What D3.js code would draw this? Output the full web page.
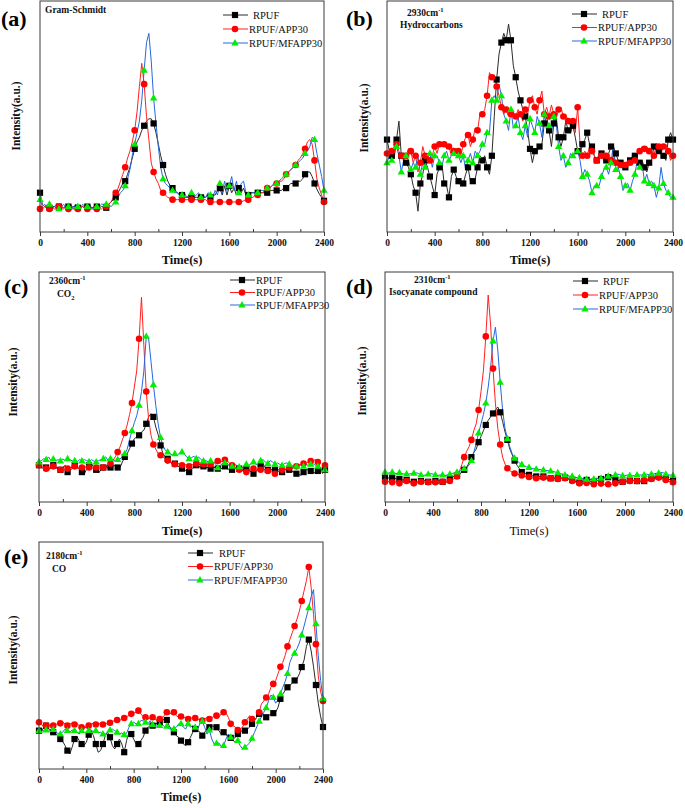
<!DOCTYPE html>
<html><head><meta charset="utf-8">
<script src="https://cdn.jsdelivr.net/npm/d3@7"></script>
<style>body{margin:0;background:#fff}svg{display:block}</style>
</head><body><svg id="c" width="685" height="808"></svg>
<script>
const time = d3.range(0, 2401, 20);
const xTicks = [0, 400, 800, 1200, 1600, 2000, 2400];
const xMinor = [200, 600, 1000, 1400, 1800, 2200];
const seriesNames = ['RPUF', 'RPUF/APP30', 'RPUF/MFAPP30'];

// (a) Gram-Schmidt
const aBlack = [17,12,11,11,10.5,11,11,10.5,11,11, 10.5,11,11,10.5,11,11,10.5,11,11,10.5, 11,11,10.5,11,11,10.5,11,11,10.5,12, 13,14,15,17,19,21,22,25,28,32, 36,39,41,44,46,48,49,49,47,43, 38,33,29,25,22,20,19,18,17,16, 16,15,15,15,15,15,15,15,15,15, 15,16,15,16,16,18,19,16,20,16, 20,17,19,16,19,17,19,16,16,17, 17,17,17,17,17,17,17,18,18,18, 18,18,18,19,19,20,21,21,21,22, 22,23,25,26,26,24,21,18.5,16.5,15, 13.5];
const aRed = [10,10,11,10,10,11,10,10,11,10, 10,11,10,10,10,10,10,10,11,10, 10,10,10,10,10,10,10,11,11,12, 13,15,17,19,22,25,28,32,35,39, 44,52,63,73,64,50,40,30,26,23, 21,18,17,16,15,14.5,14,14,14,14, 14,14,14,14,14,14,14,14,14,14, 14,13,13,13,13,13,13,13,13,13, 13,13,13,13,13,13,13.5,14,14,15, 15,16,16,17,17,18,19,19,20,21, 21,22,22,23,25,26,27,28,29,31, 32,34,36,39,40,38,31,23,19,16, 13];
const aBlue = [14,11,12,10,12,10,11,12,10,11, 12,10,11,12,10,12,11,10,12,11, 11,12,10,11,11,11,12,12,12,12, 11,12,13,15,17,18,20,23,27,33, 38,43,48,57,70,82,86,74,58,47, 37,28,23,21,20,19,18,17,17,16, 16,17,15,16,17,15,16,17,15,16, 15,17,16,15,18,16,21,17,22,18, 20,24,18,22,17,21,22,17,16,17, 17,17,17,18,18,18,19,19,20,21, 21,22,23,24,25,26,27,28,29,30, 31,32,34,35,37,41,40,34,29,24, 18];

// (b) 2930 cm-1 hydrocarbons
const bBlack = [40,35,33,32,40,48,33,31,30,28, 25,20,17,9,21,25,31,28,24,20, 16,25,28,30,21,20,15,24,27,24, 22,20,21,25,28,22,22,23,28,33, 31,33,28,25,33,50,66,77,82,86, 83,90,83,72,67,61,57,53,50,44, 36,30,35,35,37,38,47,50,44,37, 47,50,41,37,41,48,44,43,46,41, 35,33,38,40,43,38,37,33,31,33, 34,33,31,34,37,37,34,31,30,28, 28,30,31,31,33,31,30,31,28,26, 30,31,37,38,35,34,33,31,40,43, 40];
const bRed = [34,33,35,37,38,35,33,34,33,36, 35,30,33,26,30,37,33,34,31,33, 37,34,38,37,38,36,37,33,35,36, 35,33,38,41,42,37,40,45,44,51, 51,53,59,69,67,68,63,59,54,51, 53,50,51,52,50,53,51,48,53,51, 57,59,54,51,57,61,51,54,50,55, 51,49,53,54,50,51,48,46,48,43, 54,38,33,35,33,37,35,33,31,34, 33,31,33,34,31,33,30,31,29,30, 29,31,30,33,31,34,35,37,36,37, 35,35,33,38,37,34,37,38,35,31, 33];
const bBlue = [30,33,31,34,37,33,26,31,33,31, 27,30,28,33,25,30,28,33,34,28, 33,33,30,28,33,35,31,33,34,36, 33,30,33,27,31,34,30,35,33,35, 38,38,43,43,57,59,57,64,59,51, 48,44,53,45,46,50,43,40,46,41, 49,46,43,50,47,41,51,44,46,43, 50,47,37,31,33,28,30,34,33,34, 35,31,24,27,25,22,17,20,20,20, 24,27,28,25,30,38,27,28,24,18, 20,21,18,22,25,31,28,30,22,25, 21,22,20,15,19,28,21,18,17,15, 15];

// (c) 2360 cm-1 CO2
const cBlack = [16,15,14.5,15,14,15,16,15,14.5,14, 15,16,13,14,14.5,16,15,14.5,13,12, 14.5,16,16.7,15,14,12.6,14,15,16,14.5, 15,15.5,16,15,15,17.4,19.6,21,23.2,25.4, 27.5,28.3,29,30.4,31.2,34,37,38.4,37,32.6, 29.3,24.6,21,19.6,18.8,17.4,16.4,16.7,16,15, 14.5,14,13.5,13,14.5,15,16,15.5,15,15.5, 15,15,14.5,15,15,14.5,14,15,15.5,14.5, 14,14,14.5,15,14.5,14,14,14.5,14,13, 12.3,13.5,14.5,15.5,16.4,15,14,13.5,14.5,14, 14,14,13,14,14.5,14,13.5,13,12.3,12, 11.6,13,14,14,13.5,13,12.6,13.5,14,14.5, 14];
const cRed = [16,15.5,15,14.5,15,14.5,15.5,14.5,15,14, 15,15.5,14.5,15,15,15.5,15,14.5,15,15, 15.5,15,14.5,15,15,15.5,16,15,15.5,16, 16.7,18,19.6,21.7,24,27,30,33.5,38,43, 50,57,71,89,68,48,36,29,25,23, 21,20.3,19.6,18.8,18,17.4,17,16.4,17,16.4, 16,16.4,16,15.5,16.4,16,16.7,16.4,16,16.4, 15.5,16.7,16.4,17,17.4,17.8,17,18,18.4,18, 16.7,16,15,14.5,14,13.8,13.5,13,13.8,14, 14.5,13.8,13.5,14,14.5,13.8,13.5,14,13,12.3, 13,13.5,14,14.5,13.8,15,14.5,15,15.5,16, 16.4,16.7,17,17.4,17.8,18,18.4,17.4,15,12.3, 16];
const cBlue = [17.4,18,18.8,18.4,19.6,18,18.7,18,18.4,17.8, 18.7,18,18.8,18.4,17.8,18,17.4,18.4,17.8,18.4, 18,17.5,18.4,17.8,17.4,18,18.4,18.8,19.6,18, 18.8,18.4,18,18.4,18.8,19.6,21,23,27,31, 34.5,37.5,42,48,57,72,71,61,51,42, 34,28,24.6,22.5,21.7,21,20.3,21,20.3,21.3, 21.7,20.7,19.6,18.8,19.3,19.9,18.8,19.6,18.4,17.8, 18,17.4,17.8,17.2,16.7,14.9,15.9,16.4,17,16.4, 15.9,15.5,16.4,15.9,15.2,14.5,15.5,16.4,15.9,16.7, 17.4,16.4,15.9,18,18.4,17.4,16.7,18,17.4,16.4, 17,16.4,15.9,16.7,17,16.4,15.9,15.2,15.5,16.4, 15.9,15.5,16.4,15.9,16.4,16.7,15.9,15.5,15,14.5, 14];

// (d) 2310 cm-1 isocyanate compound
const dBlack = [10.6,10.6,10.3,10.6,10.3,10,10,9.6,9.6,9.6, 9.1,8.8,8.8,8.6,8.8,9.1,9.6,9.1,8.8,8.6, 8.8,9.1,9.6,9.1,8.8,8.6,8.8,10.3,11.1,11.1, 11.4,11.8,13.3,14,15,17,19.5,21.5,23,26, 28.5,31,33.5,35.5,37,38.5,40,41.3,39,35, 30.5,27,23,20.5,18,16,14.5,13,12.5,12.1, 11.8,11.5,11.2,11.1,11.1,10.9,11.1,10.6,10.3,10.3, 10.3,10.3,10.3,10.3,10.3,10.6,10.3,10,9.6,9.1, 8.8,8.6,8.8,9.1,9.6,9.1,8.8,8.8,9.1,9.6, 10,10.3,10.6,10.8,10.9,10.3,9.6,9.4,9.1,8.8, 8.8,9.1,9.4,9.6,9.4,9.1,8.8,8.8,9.1,9.4, 9.6,10.3,10.6,10.9,11.1,10.9,10.6,10.3,10,9.6, 9.1];
const dRed = [8.8,8.8,9.1,8.6,8.8,8.6,8.1,8.6,8.8,9.1, 8.8,8.6,8.1,8.1,8.6,8.8,8.6,8.8,8.6,8.6, 8.8,8.6,8.1,8.6,8.8,8.6,8.8,9.1,9.6,10.3, 11.1,13.3,16.2,19.5,22,24,27,31,34,40, 48,57,72,90,77,58,43,32,25,19.5, 16.5,14.7,13.6,13,12.4,12.1,11.8,11.5,11.2,11.1, 10.9,10.6,10.3,10.3,10,10.3,10.6,10.3,10,10.3, 10.6,10.3,10,10.3,10.6,10.3,10,9.6,9.1,8.8, 8.6,8.1,8,8.1,8.3,8.1,8,7.7,8,8.1, 8,7.7,7.4,7.7,7.4,8,8.1,8.3,8.6,8.8, 8.8,9.1,9.1,9.4,9.3,9.1,9.4,9.6,9.4,9.6, 9.7,10,10.3,10.3,10.6,10.3,10,9.6,9.1,8.8, 8.6];
const dBlue = [13,12.5,12.7,13,12.5,12.4,12.7,12.4,12.1,12.2, 12.1,12.4,12.5,12.7,12.4,11.8,11.5,11.8,12.1,12.4, 12.1,11.8,11.5,11.8,11.7,11.5,11.8,12.1,12.4,12.7, 13,13.3,13.9,14.5,15,16,18,21.5,25.5,30, 34,38,43,50,58.5,70,76,66,52,40, 32,27.5,24,21,19,18,17,16.3,15.8,15.3, 15,14.7,14.5,14.3,14.2,14,13.9,13.7,13.6,13.4, 13.3,13,12.7,12.4,12.1,11.8,11.5,11.2,11.2,10.9, 10.6,10.6,10.3,10,9.9,9.7,9.9,10,10.3,10.3, 10.3,10.6,10.9,11.2,11.4,11.5,11.8,12.1,11.8,11.4, 11.5,11.7,11.5,11.4,11.5,11.7,11.8,11.7,11.8,12.1, 11.9,12.1,12.2,12.4,12.5,12.8,12.7,12.1,11.8,11.7, 11.5];

// (e) 2180 cm-1 CO
const eBlack = [16.9,16.2,18.4,19.1,17.6,16.9,16.2,15.4,14.7,13.2, 12.2,10.3,8.1,6.6,9.6,13.2,14.3,12.5,11,10.3, 11.8,15.1,16.9,14.7,11,7.4,8.1,11,14.7,16.2, 14,10.3,8.8,11,13.2,11,7.4,12.5,16.2,15.4, 13.2,11,11,12.5,14,16.9,18.4,18.7,19.1,19.9, 20.1,20.6,21.3,22,21.6,19.1,17.2,16.2,14.7,14, 12.5,11,10.3,11.8,14,16.2,17.6,16.9,16.2,14.7, 16.2,17.6,18.4,19.1,18.7,18.4,16.9,15.4,16.2,15.1, 14.3,13.7,13.2,14,15.4,16.9,16.6,16.9,17.6,18.4, 19.9,21.3,22.8,24.3,25,23.5,22.8,23.5,24.3,24.6, 25,27.2,30.9,33,34.6,36,36.8,37.8,39,39.7, 41.9,44.9,48,54,57,52,45,37,29,23, 18.5];
const eRed = [20.6,19.9,18.4,19.1,19.9,18.4,19.1,19.9,19.6,20.1, 20.6,19.9,19.1,19.9,20.1,19.6,20.1,19.1,18.4,18.7, 18.4,19.1,19.9,20.1,19.6,20.1,19.9,19.6,20.1,19.9, 20.4,21,21.3,21.6,21.3,22,22.5,23.1,23.5,24.3, 24.6,25,25.7,24.3,23.1,22.8,22,22.5,22.8,22, 21.3,22,22.8,23.5,25,24.3,24.6,25,23.5,22.8, 23.1,22.8,22.5,22,22.8,22,22.5,21.6,22,21.3, 22,22.8,22,22.5,23.5,23.5,22.8,24.3,25,24.6, 22.8,19.9,19.1,18.4,17.2,17.6,18.4,20.6,22,23.5, 22,21.3,22.8,25,28.7,30,31.5,33,36,37.5, 39,42,45,47,50,54,57,60,63,66, 69.5,74,78.5,83,89,80,68,55,41,34, 30];
const eBlue = [16.9,17.6,16.9,17.2,16.6,16.9,17.4,16.2,15.7,15.4, 16.2,17.6,16.9,16.2,17.2,16.9,16.2,15.4,16.9,18.1, 18.4,16.9,17.4,16.2,16.9,15.9,16.2,15.4,15.4,16.2, 17.2,17.6,16.9,16.2,15.4,15.9,15.1,15.7,18.4,19.9, 20.6,19.9,19.9,21.3,21.3,20.6,19.9,21.3,19.6,19.1, 18.7,19.1,19.6,18.7,18.8,17.6,18,17.6,18.4,19.9, 19.9,18.4,17.6,19.9,18.4,19.1,18.4,17.6,19.9,20.9, 18.4,15.4,17.2,13.2,11,11.3,11.5,9.9,10.3,13.2, 15.4,14,12.5,11.8,12.5,10.3,8.8,9.5,10.5,11.5, 13.5,16,18.5,21,23,25,27,30,32.6,31.5, 29,30.5,33,36,38.5,42,47,49.5,51,53, 55.5,59,63,67,71,76,79,64,50,39, 31];

const FONT = '"Liberation Serif","Times New Roman",serif';
const lineCol = ['#2b2b2b', '#ff2020', '#2468e0'];
const markCol = ['#000000', '#ff0000', '#00ee00'];
const markType = ['square', 'circle', 'triangle'];

const panels = [
  {tag:'(a)', tagX:1, tagY:26, box:[40,1,324,232], data:[aBlack,aRed,aBlue], every:4,
   leg:{x:223, y:15, dy:14, first:4}, ylab:{x:20, y:116}, xlabY:264, xlabBold:true,
   notes:[{x:45, y:13, parts:[['Gram-Schmidt']]}]},
  {tag:'(b)', tagX:346, tagY:26, box:[387,1,673,232], data:[bBlack,bRed,bBlue], every:2,
   leg:{x:572, y:14, dy:13.5, first:4}, ylab:{x:368, y:118}, xlabY:264, xlabBold:true,
   notes:[{x:407, y:16, parts:[['2930cm'],['-1','sup']]},{x:400, y:28, parts:[['Hydroccarbons']]}]},
  {tag:'(c)', tagX:4, tagY:294, box:[39,272,325,502], data:[cBlack,cRed,cBlue], every:3,
   leg:{x:230, y:280, dy:12.5, first:0}, ylab:{x:17, y:382}, xlabY:535, xlabBold:true,
   notes:[{x:49, y:284, parts:[['2360cm'],['-1','sup']]},{x:57, y:297, parts:[['CO'],['2','sub']]}]},
  {tag:'(d)', tagX:346, tagY:294, box:[385,272,673,502], data:[dBlack,dRed,dBlue], every:3,
   leg:{x:573, y:281, dy:14, first:4}, ylab:{x:366, y:381}, xlabY:535, xlabBold:false,
   notes:[{x:414, y:283, parts:[['2310cm'],['-1','sup']]},{x:389, y:295, parts:[['Isocyanate compound']]}]},
  {tag:'(e)', tagX:4, tagY:564, box:[39,542,323,769], data:[eBlack,eRed,eBlue], every:3,
   leg:{x:188, y:553, dy:13.5, first:5}, ylab:{x:17, y:650}, xlabY:801, xlabBold:true,
   notes:[{x:46, y:559, parts:[['2180cm'],['-1','sup']]},{x:52, y:572, parts:[['CO']]}]}
];

const svg = d3.select('#c');

function drawMarker(g, type, cx, cy, col) {
  if (type === 'square') {
    g.append('rect').attr('x', cx - 3.1).attr('y', cy - 3.1).attr('width', 6.2).attr('height', 6.2).attr('fill', col);
  } else if (type === 'circle') {
    g.append('circle').attr('cx', cx).attr('cy', cy).attr('r', 3.3).attr('fill', col);
  } else {
    const s = 7.4, h = s * 0.866;
    g.append('path').attr('d', `M${cx},${cy - h*0.62}L${cx + s/2},${cy + h*0.38}L${cx - s/2},${cy + h*0.38}Z`).attr('fill', col);
  }
}

panels.forEach(p => {
  const [L, T, R, B] = p.box;
  const x = d3.scaleLinear().domain([0, 2400]).range([L, R]);
  const y = d3.scaleLinear().domain([0, 100]).range([B, T]);
  const g = svg.append('g');

  // series lines
  p.data.forEach((vals, si) => {
    const pts = vals.map((v, i) => [time[i], v]);
    const line = d3.line().x(d => x(d[0])).y(d => y(d[1]));
    g.append('path').attr('d', line(pts)).attr('fill', 'none')
      .attr('stroke', lineCol[si]).attr('stroke-width', 1);
  });
  // markers
  p.data.forEach((vals, si) => {
    const mg = g.append('g');
    vals.forEach((v, i) => {
      if (i % p.every === 0) drawMarker(mg, markType[si], x(time[i]), y(v), markCol[si]);
    });
  });

  // frame
  g.append('rect').attr('x', L).attr('y', T).attr('width', R - L).attr('height', B - T)
    .attr('fill', 'none').attr('stroke', '#3a3a3a').attr('stroke-width', 1);

  // x axis
  const ax = g.append('g').attr('transform', `translate(0,${B})`)
    .call(d3.axisBottom(x).tickValues(xTicks).tickSize(4).tickFormat(d3.format('d')));
  ax.select('.domain').remove();
  ax.selectAll('line').attr('stroke', '#3a3a3a');
  ax.selectAll('text').attr('font-family', FONT).attr('font-weight', 'bold').attr('font-size', 9.5).attr('fill', '#111');
  const axm = g.append('g').attr('transform', `translate(0,${B})`)
    .call(d3.axisBottom(x).tickValues(xMinor).tickSize(-3).tickFormat(''));
  axm.select('.domain').remove();
  axm.selectAll('line').attr('stroke', '#3a3a3a');

  // x title
  g.append('text').attr('x', (L + R) / 2).attr('y', p.xlabY).attr('text-anchor', 'middle')
    .attr('font-family', FONT).attr('font-weight', p.xlabBold ? 'bold' : 'normal')
    .attr('font-size', 12.5).attr('fill', '#111').text('Time(s)');
  // y title
  g.append('text').attr('transform', `translate(${p.ylab.x},${p.ylab.y}) rotate(-90)`)
    .attr('text-anchor', 'middle').attr('font-family', FONT).attr('font-weight', 'bold')
    .attr('font-size', 11.5).attr('fill', '#111').text('Intensity(a.u.)');
  // panel tag
  g.append('text').attr('x', p.tagX).attr('y', p.tagY).attr('font-family', FONT)
    .attr('font-weight', 'bold').attr('font-size', 22).attr('fill', '#000').text(p.tag);
  // notes
  p.notes.forEach(n => {
    const t = g.append('text').attr('x', n.x).attr('y', n.y).attr('font-family', FONT)
      .attr('font-weight', 'bold').attr('font-size', 9.5).attr('fill', '#111');
    n.parts.forEach(pt => {
      const ts = t.append('tspan').text(pt[0]);
      if (pt[1] === 'sup') ts.attr('font-size', 6.5).attr('dy', -4);
      if (pt[1] === 'sub') ts.attr('font-size', 6.5).attr('dy', 2.5);
    });
  });
  // legend
  seriesNames.forEach((name, si) => {
    const ly = p.leg.y + si * p.leg.dy;
    g.append('line').attr('x1', p.leg.x).attr('x2', p.leg.x + 25).attr('y1', ly).attr('y2', ly)
      .attr('stroke', lineCol[si]).attr('stroke-width', 1);
    drawMarker(g, markType[si], p.leg.x + 12, ly, markCol[si]);
    g.append('text').attr('x', p.leg.x + 26 + (si === 0 ? p.leg.first : 0)).attr('y', ly + 3.8)
      .attr('font-family', FONT).attr('font-size', 10.5).attr('fill', '#111').text(name);
  });
});
</script></body></html>
